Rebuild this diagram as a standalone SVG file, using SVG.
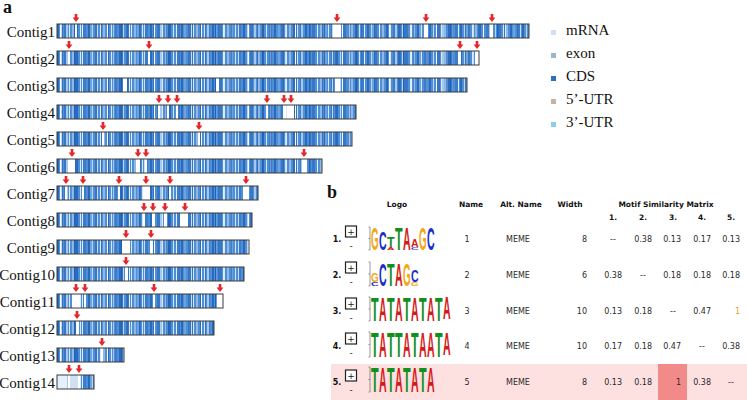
<svg xmlns="http://www.w3.org/2000/svg" xmlns:xlink="http://www.w3.org/1999/xlink" width="747" height="400" viewBox="0 0 747 400">
<style>
.lbl{font-family:"Liberation Serif","Times New Roman",serif;font-size:15px;fill:#111;text-anchor:end}
.leg{font-family:"Liberation Serif","Times New Roman",serif;font-size:15px;fill:#111}
.pl{font-family:"Liberation Serif","Times New Roman",serif;font-size:18px;font-weight:bold;fill:#111}
.base{fill:#4f8fd6}
.bd{fill:none;stroke:#3a3a3a;stroke-width:1}
.gap{fill:#ffffff}
.hd{font-family:"DejaVu Sans",Verdana,sans-serif;font-size:7.5px;font-weight:bold;fill:#111;text-anchor:middle}
.dt{font-family:"DejaVu Sans",Verdana,sans-serif;font-size:8px;fill:#2a2a2a}
.r{text-anchor:end}
.m{text-anchor:middle}
.num{font-family:"DejaVu Sans",Verdana,sans-serif;font-size:8px;font-weight:bold;fill:#111;text-anchor:middle}
.pbox{fill:#fff;stroke:#222;stroke-width:1.2}
.pm{font-family:"DejaVu Sans",Verdana,sans-serif;font-size:9px;fill:#222;text-anchor:middle}
.lg{font-family:"Liberation Sans",Arial,sans-serif;font-weight:bold}
.A{fill:#d61a1a}.C{fill:#1a2ec8}.G{fill:#f2a814}.T{fill:#12901e}
.ax{stroke:#555;stroke-width:0.6;fill:none}
</style>
<defs>
<pattern id="s1" patternUnits="userSpaceOnUse" x="57" y="0" width="31" height="400">
<rect x="0" y="0" width="2" height="400" fill="#2a6bbf"/>
<rect x="4" y="0" width="1" height="400" fill="#bcd6f2"/>
<rect x="7" y="0" width="3" height="400" fill="#3578c8"/>
<rect x="12" y="0" width="1" height="400" fill="#ffffff" opacity="0.8"/>
<rect x="15" y="0" width="2" height="400" fill="#8fb8e6"/>
<rect x="19" y="0" width="2" height="400" fill="#2a6bbf"/>
<rect x="23" y="0" width="1" height="400" fill="#d6e6f7"/>
<rect x="26" y="0" width="3" height="400" fill="#3a7dcc"/>
</pattern>
<pattern id="s2" patternUnits="userSpaceOnUse" x="57" y="0" width="47" height="400">
<rect x="3" y="0" width="1" height="400" fill="#ffffff"/>
<rect x="9" y="0" width="2" height="400" fill="#a7c7ec"/>
<rect x="17" y="0" width="1.5" height="400" fill="#1f62b8"/>
<rect x="25" y="0" width="1" height="400" fill="#e3eefa"/>
<rect x="33" y="0" width="2" height="400" fill="#6fa3de"/>
<rect x="40" y="0" width="1" height="400" fill="#ffffff" opacity="0.7"/>
</pattern>
<pattern id="s3" patternUnits="userSpaceOnUse" x="57" y="0" width="13" height="400">
<rect x="5" y="0" width="1" height="400" fill="#2563b5" opacity="0.6"/>
</pattern>
<path id="ar" d="M-1.3,0 h2.6 v3.6 h2.1 l-3.4,4.4 l-3.4,-4.4 h2.1 z" fill="#e5262a"/>
</defs>

<text class="pl" x="3" y="13">a</text>
<text class="pl" x="327" y="198">b</text>

<g id="bars">
<g id="contig1">
<text class="lbl" x="55" y="36.5">Contig1</text>
<rect class="base" x="57" y="24" width="472" height="14"/>
<rect fill="url(#s1)" x="57" y="24" width="472" height="14"/>
<rect fill="url(#s2)" x="57" y="24" width="472" height="14"/>
<rect fill="url(#s3)" x="57" y="24" width="472" height="14"/>
<rect class="gap" x="75" y="24" width="2" height="14"/>
<rect class="gap" x="333" y="24" width="8" height="14"/>
<rect class="gap" x="424" y="24" width="4" height="14"/>
<rect class="gap" x="490" y="24" width="3" height="14"/>
<rect class="bd" x="57" y="24" width="472" height="14"/>
<use href="#ar" x="76" y="14"/><use href="#ar" x="337" y="14"/><use href="#ar" x="426" y="14"/><use href="#ar" x="492" y="14"/>
</g>
<g id="contig2">
<text class="lbl" x="55" y="63.5">Contig2</text>
<rect class="base" x="57" y="51" width="422" height="14"/>
<rect fill="url(#s1)" x="57" y="51" width="422" height="14"/>
<rect fill="url(#s2)" x="57" y="51" width="422" height="14"/>
<rect fill="url(#s3)" x="57" y="51" width="422" height="14"/>
<rect class="gap" x="68" y="51" width="2" height="14"/>
<rect class="gap" x="148" y="51" width="2" height="14"/>
<rect class="gap" x="458" y="51" width="3" height="14"/>
<rect class="gap" x="475" y="51" width="4" height="14"/>
<rect class="bd" x="57" y="51" width="422" height="14"/>
<use href="#ar" x="69" y="41"/><use href="#ar" x="149" y="41"/><use href="#ar" x="460" y="41"/><use href="#ar" x="477" y="41"/>
</g>
<g id="contig3">
<text class="lbl" x="55" y="90.5">Contig3</text>
<rect class="base" x="57" y="78" width="410" height="14"/>
<rect fill="url(#s1)" x="57" y="78" width="410" height="14"/>
<rect fill="url(#s2)" x="57" y="78" width="410" height="14"/>
<rect fill="url(#s3)" x="57" y="78" width="410" height="14"/>
<rect class="gap" x="123" y="78" width="4" height="14"/>
<rect class="gap" x="216" y="78" width="3" height="14"/>
<rect class="gap" x="335" y="78" width="5" height="14"/>
<rect class="bd" x="57" y="78" width="410" height="14"/>
</g>
<g id="contig4">
<text class="lbl" x="55" y="117.5">Contig4</text>
<rect class="base" x="57" y="105" width="299" height="14"/>
<rect fill="url(#s1)" x="57" y="105" width="299" height="14"/>
<rect fill="url(#s2)" x="57" y="105" width="299" height="14"/>
<rect fill="url(#s3)" x="57" y="105" width="299" height="14"/>
<rect class="gap" x="158" y="105" width="2" height="14"/>
<rect class="gap" x="167" y="105" width="2" height="14"/>
<rect class="gap" x="176" y="105" width="2" height="14"/>
<rect class="gap" x="266" y="105" width="2" height="14"/>
<rect class="gap" x="283" y="105" width="3" height="14"/>
<rect class="gap" x="287" y="105" width="7" height="14"/>
<rect class="bd" x="57" y="105" width="299" height="14"/>
<use href="#ar" x="159" y="95"/><use href="#ar" x="168" y="95"/><use href="#ar" x="177" y="95"/><use href="#ar" x="267" y="95"/><use href="#ar" x="284" y="95"/><use href="#ar" x="291" y="95"/>
</g>
<g id="contig5">
<text class="lbl" x="55" y="144.5">Contig5</text>
<rect class="base" x="57" y="132" width="295" height="14"/>
<rect fill="url(#s1)" x="57" y="132" width="295" height="14"/>
<rect fill="url(#s2)" x="57" y="132" width="295" height="14"/>
<rect fill="url(#s3)" x="57" y="132" width="295" height="14"/>
<rect class="gap" x="102" y="132" width="2" height="14"/>
<rect class="gap" x="198" y="132" width="2" height="14"/>
<rect class="bd" x="57" y="132" width="295" height="14"/>
<use href="#ar" x="103" y="122"/><use href="#ar" x="199" y="122"/>
</g>
<g id="contig6">
<text class="lbl" x="55" y="171.5">Contig6</text>
<rect class="base" x="57" y="159" width="265" height="14"/>
<rect fill="url(#s1)" x="57" y="159" width="265" height="14"/>
<rect fill="url(#s2)" x="57" y="159" width="265" height="14"/>
<rect fill="url(#s3)" x="57" y="159" width="265" height="14"/>
<rect class="gap" x="68" y="159" width="7" height="14"/>
<rect class="gap" x="136" y="159" width="4" height="14"/>
<rect class="gap" x="145" y="159" width="2" height="14"/>
<rect class="gap" x="302" y="159" width="5" height="14"/>
<rect class="bd" x="57" y="159" width="265" height="14"/>
<use href="#ar" x="72" y="149"/><use href="#ar" x="138" y="149"/><use href="#ar" x="146" y="149"/><use href="#ar" x="304" y="149"/>
</g>
<g id="contig7">
<text class="lbl" x="55" y="198.5">Contig7</text>
<rect class="base" x="57" y="186" width="201" height="14"/>
<rect fill="url(#s1)" x="57" y="186" width="201" height="14"/>
<rect fill="url(#s2)" x="57" y="186" width="201" height="14"/>
<rect fill="url(#s3)" x="57" y="186" width="201" height="14"/>
<rect class="gap" x="65" y="186" width="2" height="14"/>
<rect class="gap" x="82" y="186" width="2" height="14"/>
<rect class="gap" x="118" y="186" width="2" height="14"/>
<rect class="gap" x="143" y="186" width="7" height="14"/>
<rect class="gap" x="169" y="186" width="2" height="14"/>
<rect class="gap" x="243" y="186" width="5" height="14"/>
<rect class="bd" x="57" y="186" width="201" height="14"/>
<use href="#ar" x="66" y="176"/><use href="#ar" x="83" y="176"/><use href="#ar" x="119" y="176"/><use href="#ar" x="146" y="176"/><use href="#ar" x="170" y="176"/><use href="#ar" x="246" y="176"/>
</g>
<g id="contig8">
<text class="lbl" x="55" y="225.5">Contig8</text>
<rect class="base" x="57" y="213" width="195" height="14"/>
<rect fill="url(#s1)" x="57" y="213" width="195" height="14"/>
<rect fill="url(#s2)" x="57" y="213" width="195" height="14"/>
<rect fill="url(#s3)" x="57" y="213" width="195" height="14"/>
<rect class="gap" x="143" y="213" width="2" height="14"/>
<rect class="gap" x="152" y="213" width="3" height="14"/>
<rect class="gap" x="164" y="213" width="3" height="14"/>
<rect class="gap" x="180" y="213" width="8" height="14"/>
<rect class="bd" x="57" y="213" width="195" height="14"/>
<use href="#ar" x="144" y="203"/><use href="#ar" x="153" y="203"/><use href="#ar" x="165" y="203"/><use href="#ar" x="185" y="203"/>
</g>
<g id="contig9">
<text class="lbl" x="55" y="252.5">Contig9</text>
<rect class="base" x="57" y="240" width="192" height="14"/>
<rect fill="url(#s1)" x="57" y="240" width="192" height="14"/>
<rect fill="url(#s2)" x="57" y="240" width="192" height="14"/>
<rect fill="url(#s3)" x="57" y="240" width="192" height="14"/>
<rect class="gap" x="122" y="240" width="8" height="14"/>
<rect class="gap" x="150" y="240" width="3" height="14"/>
<rect class="bd" x="57" y="240" width="192" height="14"/>
<use href="#ar" x="126" y="230"/><use href="#ar" x="151" y="230"/>
</g>
<g id="contig10">
<text class="lbl" x="55" y="279.5">Contig10</text>
<rect class="base" x="57" y="267" width="187" height="14"/>
<rect fill="url(#s1)" x="57" y="267" width="187" height="14"/>
<rect fill="url(#s2)" x="57" y="267" width="187" height="14"/>
<rect fill="url(#s3)" x="57" y="267" width="187" height="14"/>
<rect class="gap" x="125" y="267" width="3" height="14"/>
<rect class="bd" x="57" y="267" width="187" height="14"/>
<use href="#ar" x="126" y="257"/>
</g>
<g id="contig11">
<text class="lbl" x="55" y="306.5">Contig11</text>
<rect class="base" x="57" y="294" width="166" height="14"/>
<rect fill="url(#s1)" x="57" y="294" width="166" height="14"/>
<rect fill="url(#s2)" x="57" y="294" width="166" height="14"/>
<rect fill="url(#s3)" x="57" y="294" width="166" height="14"/>
<rect class="gap" x="72" y="294" width="8" height="14"/>
<rect class="gap" x="84" y="294" width="2" height="14"/>
<rect class="gap" x="153" y="294" width="2" height="14"/>
<rect class="gap" x="217" y="294" width="6" height="14"/>
<rect class="bd" x="57" y="294" width="166" height="14"/>
<use href="#ar" x="76" y="284"/><use href="#ar" x="85" y="284"/><use href="#ar" x="154" y="284"/><use href="#ar" x="220" y="284"/>
</g>
<g id="contig12">
<text class="lbl" x="55" y="333.5">Contig12</text>
<rect class="base" x="57" y="321" width="157" height="14"/>
<rect fill="url(#s1)" x="57" y="321" width="157" height="14"/>
<rect fill="url(#s2)" x="57" y="321" width="157" height="14"/>
<rect fill="url(#s3)" x="57" y="321" width="157" height="14"/>
<rect class="gap" x="76" y="321" width="3" height="14"/>
<rect class="bd" x="57" y="321" width="157" height="14"/>
<use href="#ar" x="77" y="311"/>
</g>
<g id="contig13">
<text class="lbl" x="55" y="360.5">Contig13</text>
<rect class="base" x="57" y="348" width="67" height="14"/>
<rect fill="url(#s1)" x="57" y="348" width="67" height="14"/>
<rect fill="url(#s2)" x="57" y="348" width="67" height="14"/>
<rect fill="url(#s3)" x="57" y="348" width="67" height="14"/>
<rect class="gap" x="101" y="348" width="2" height="14"/>
<rect class="bd" x="57" y="348" width="67" height="14"/>
<use href="#ar" x="102" y="338"/>
</g>
<g id="contig14">
<text class="lbl" x="55" y="387.5">Contig14</text>
<rect class="base" x="57" y="375" width="37" height="14"/>
<rect fill="url(#s1)" x="57" y="375" width="37" height="14"/>
<rect fill="url(#s2)" x="57" y="375" width="37" height="14"/>
<rect fill="url(#s3)" x="57" y="375" width="37" height="14"/>
<rect fill="#e6f0fb" x="57" y="375" width="10" height="14"/>
<rect fill="#cfe0f5" x="70" y="375" width="8" height="14"/>
<rect class="gap" x="68" y="375" width="2" height="14"/>
<rect class="gap" x="78" y="375" width="2" height="14"/>
<rect class="bd" x="57" y="375" width="37" height="14"/>
<use href="#ar" x="69" y="365"/><use href="#ar" x="79" y="365"/>
</g>
</g>

<g id="legend">
<rect x="551" y="30" width="5" height="5" fill="#cfe0f4"/><text class="leg" x="566" y="35">mRNA</text>
<rect x="551" y="53" width="5" height="5" fill="#9bb6cc"/><text class="leg" x="566" y="58">exon</text>
<rect x="551" y="76" width="5" height="5" fill="#2a6fc0"/><text class="leg" x="566" y="81">CDS</text>
<rect x="551" y="99" width="5" height="5" fill="#c9b2a2"/><text class="leg" x="566" y="104">5’-UTR</text>
<rect x="551" y="122" width="5" height="5" fill="#8ecbf2"/><text class="leg" x="566" y="127">3’-UTR</text>
</g>

<g id="table">
<rect x="331" y="364" width="416" height="36" fill="#fde1e1"/>
<rect x="658" y="364" width="29" height="36" fill="#f28a8a"/>
<text class="hd" x="397" y="207">Logo</text>
<text class="hd" x="471" y="207">Name</text>
<text class="hd" x="521" y="207">Alt. Name</text>
<text class="hd" x="570" y="207">Width</text>
<text class="hd" x="666" y="207">Motif Similarity Matrix</text>
<text class="hd" x="613" y="220">1.</text>
<text class="hd" x="643" y="220">2.</text>
<text class="hd" x="673" y="220">3.</text>
<text class="hd" x="702" y="220">4.</text>
<text class="hd" x="731" y="220">5.</text>

<g id="row1">
<text class="num" x="337" y="242">1.</text>
<rect class="pbox" x="345.5" y="226" width="11" height="11"/><text class="pm" x="351" y="235">+</text><text class="pm" x="351" y="249">-</text>
<path class="ax" d="M370,227 V250 M368.5,227 H370 M368.5,238.5 H370 M368.5,250 H370"/>
<text class="lg G" x="371" y="250" font-size="32" textLength="7.6" lengthAdjust="spacingAndGlyphs">G</text>
<text class="lg C" x="379" y="250" font-size="25" textLength="7.6" lengthAdjust="spacingAndGlyphs">C</text>
<text class="lg T" x="387" y="247" font-size="14" textLength="7.6" lengthAdjust="spacingAndGlyphs">T</text>
<text class="lg A" x="387" y="250" font-size="4" textLength="7.6" lengthAdjust="spacingAndGlyphs">A</text>
<text class="lg T" x="395" y="250" font-size="32" textLength="7.6" lengthAdjust="spacingAndGlyphs">T</text>
<text class="lg A" x="403" y="250" font-size="32" textLength="7.6" lengthAdjust="spacingAndGlyphs">A</text>
<text class="lg A" x="411" y="247" font-size="11" textLength="7.6" lengthAdjust="spacingAndGlyphs">A</text>
<text class="lg C" x="411" y="250" font-size="4" textLength="7.6" lengthAdjust="spacingAndGlyphs">C</text>
<text class="lg G" x="419" y="250" font-size="32" textLength="7.6" lengthAdjust="spacingAndGlyphs">G</text>
<text class="lg C" x="427" y="250" font-size="31" textLength="7.6" lengthAdjust="spacingAndGlyphs">C</text>
<text class="dt m" x="467" y="242">1</text>
<text class="dt" x="506" y="242">MEME</text>
<text class="dt r" x="587" y="242">8</text>
<text class="dt m" x="613" y="242">--</text>
<text class="dt r" x="652" y="242">0.38</text>
<text class="dt r" x="681" y="242">0.13</text>
<text class="dt r" x="711" y="242">0.17</text>
<text class="dt r" x="740" y="242">0.13</text>
</g>

<g id="row2">
<text class="num" x="337" y="278">2.</text>
<rect class="pbox" x="345.5" y="262" width="11" height="11"/><text class="pm" x="351" y="271">+</text><text class="pm" x="351" y="285">-</text>
<path class="ax" d="M370,262 V286 M368.5,262 H370 M368.5,274 H370 M368.5,286 H370"/>
<text class="lg G" x="371" y="282" font-size="13" textLength="7.6" lengthAdjust="spacingAndGlyphs">G</text>
<text class="lg C" x="371" y="286" font-size="5" textLength="7.6" lengthAdjust="spacingAndGlyphs">C</text>
<text class="lg C" x="379" y="286" font-size="32" textLength="7.6" lengthAdjust="spacingAndGlyphs">C</text>
<text class="lg T" x="387" y="286" font-size="32" textLength="7.6" lengthAdjust="spacingAndGlyphs">T</text>
<text class="lg A" x="395" y="286" font-size="32" textLength="7.6" lengthAdjust="spacingAndGlyphs">A</text>
<text class="lg G" x="403" y="286" font-size="32" textLength="7.6" lengthAdjust="spacingAndGlyphs">G</text>
<text class="lg C" x="411" y="282" font-size="16" textLength="7.6" lengthAdjust="spacingAndGlyphs">C</text>
<text class="lg G" x="411" y="286" font-size="5" textLength="7.6" lengthAdjust="spacingAndGlyphs">G</text>
<text class="dt m" x="467" y="278">2</text>
<text class="dt" x="506" y="278">MEME</text>
<text class="dt r" x="587" y="278">6</text>
<text class="dt r" x="622" y="278">0.38</text>
<text class="dt m" x="643" y="278">--</text>
<text class="dt r" x="681" y="278">0.18</text>
<text class="dt r" x="711" y="278">0.18</text>
<text class="dt r" x="740" y="278">0.18</text>
</g>

<g id="row3">
<text class="num" x="337" y="314">3.</text>
<rect class="pbox" x="345.5" y="298" width="11" height="11"/><text class="pm" x="351" y="307">+</text><text class="pm" x="351" y="321">-</text>
<path class="ax" d="M370,297 V321 M368.5,297 H370 M368.5,309 H370 M368.5,321 H370"/>
<text class="lg T" x="371" y="321" font-size="33.5" textLength="7.6" lengthAdjust="spacingAndGlyphs">T</text>
<text class="lg A" x="379" y="321" font-size="33.5" textLength="7.6" lengthAdjust="spacingAndGlyphs">A</text>
<text class="lg T" x="387" y="321" font-size="33.5" textLength="7.6" lengthAdjust="spacingAndGlyphs">T</text>
<text class="lg A" x="395" y="321" font-size="33.5" textLength="7.6" lengthAdjust="spacingAndGlyphs">A</text>
<text class="lg T" x="403" y="321" font-size="33.5" textLength="7.6" lengthAdjust="spacingAndGlyphs">T</text>
<text class="lg A" x="411" y="321" font-size="33.5" textLength="7.6" lengthAdjust="spacingAndGlyphs">A</text>
<text class="lg T" x="419" y="321" font-size="33.5" textLength="7.6" lengthAdjust="spacingAndGlyphs">T</text>
<text class="lg A" x="427" y="321" font-size="33.5" textLength="7.6" lengthAdjust="spacingAndGlyphs">A</text>
<text class="lg T" x="435" y="321" font-size="33.5" textLength="7.6" lengthAdjust="spacingAndGlyphs">T</text>
<text class="lg A" x="443" y="319" font-size="31" textLength="7.6" lengthAdjust="spacingAndGlyphs">A</text>
<text class="dt m" x="467" y="314">3</text>
<text class="dt" x="506" y="314">MEME</text>
<text class="dt r" x="587" y="314">10</text>
<text class="dt r" x="622" y="314">0.13</text>
<text class="dt r" x="652" y="314">0.18</text>
<text class="dt m" x="673" y="314">--</text>
<text class="dt r" x="711" y="314">0.47</text>
<text class="dt r" x="740" y="314" style="fill:#f0a030">1</text>
</g>

<g id="row4">
<text class="num" x="337" y="349">4.</text>
<rect class="pbox" x="345.5" y="333" width="11" height="11"/><text class="pm" x="351" y="342">+</text><text class="pm" x="351" y="356">-</text>
<path class="ax" d="M370,332 V357 M368.5,332 H370 M368.5,344.5 H370 M368.5,357 H370"/>
<text class="lg T" x="371" y="357" font-size="34.5" textLength="7.6" lengthAdjust="spacingAndGlyphs">T</text>
<text class="lg A" x="379" y="357" font-size="34.5" textLength="7.6" lengthAdjust="spacingAndGlyphs">A</text>
<text class="lg T" x="387" y="357" font-size="34.5" textLength="7.6" lengthAdjust="spacingAndGlyphs">T</text>
<text class="lg T" x="395" y="357" font-size="34.5" textLength="7.6" lengthAdjust="spacingAndGlyphs">T</text>
<text class="lg A" x="403" y="357" font-size="34.5" textLength="7.6" lengthAdjust="spacingAndGlyphs">A</text>
<text class="lg T" x="411" y="357" font-size="34.5" textLength="7.6" lengthAdjust="spacingAndGlyphs">T</text>
<text class="lg A" x="419" y="357" font-size="34.5" textLength="7.6" lengthAdjust="spacingAndGlyphs">A</text>
<text class="lg A" x="427" y="357" font-size="34.5" textLength="7.6" lengthAdjust="spacingAndGlyphs">A</text>
<text class="lg T" x="435" y="357" font-size="34.5" textLength="7.6" lengthAdjust="spacingAndGlyphs">T</text>
<text class="lg A" x="443" y="355" font-size="32" textLength="7.6" lengthAdjust="spacingAndGlyphs">A</text>
<text class="dt m" x="467" y="349">4</text>
<text class="dt" x="506" y="349">MEME</text>
<text class="dt r" x="587" y="349">10</text>
<text class="dt r" x="622" y="349">0.17</text>
<text class="dt r" x="652" y="349">0.18</text>
<text class="dt r" x="681" y="349">0.47</text>
<text class="dt m" x="702" y="349">--</text>
<text class="dt r" x="740" y="349">0.38</text>
</g>

<g id="row5">
<text class="num" x="337" y="385">5.</text>
<rect class="pbox" x="345.5" y="370" width="11" height="11"/><text class="pm" x="351" y="379">+</text><text class="pm" x="351" y="393">-</text>
<path class="ax" d="M370,367 V392 M368.5,367 H370 M368.5,379.5 H370 M368.5,392 H370"/>
<text class="lg T" x="371" y="392" font-size="34.5" textLength="7.6" lengthAdjust="spacingAndGlyphs">T</text>
<text class="lg A" x="379" y="392" font-size="34.5" textLength="7.6" lengthAdjust="spacingAndGlyphs">A</text>
<text class="lg T" x="387" y="392" font-size="34.5" textLength="7.6" lengthAdjust="spacingAndGlyphs">T</text>
<text class="lg A" x="395" y="392" font-size="34.5" textLength="7.6" lengthAdjust="spacingAndGlyphs">A</text>
<text class="lg T" x="403" y="392" font-size="34.5" textLength="7.6" lengthAdjust="spacingAndGlyphs">T</text>
<text class="lg A" x="411" y="392" font-size="34.5" textLength="7.6" lengthAdjust="spacingAndGlyphs">A</text>
<text class="lg T" x="419" y="392" font-size="34.5" textLength="7.6" lengthAdjust="spacingAndGlyphs">T</text>
<text class="lg A" x="427" y="392" font-size="34.5" textLength="7.6" lengthAdjust="spacingAndGlyphs">A</text>
<text class="dt m" x="467" y="385">5</text>
<text class="dt" x="506" y="385">MEME</text>
<text class="dt r" x="587" y="385">8</text>
<text class="dt r" x="622" y="385">0.13</text>
<text class="dt r" x="652" y="385">0.18</text>
<text class="dt r" x="681" y="385">1</text>
<text class="dt r" x="711" y="385">0.38</text>
<text class="dt m" x="731" y="385">--</text>
</g>
</g>
</svg>
